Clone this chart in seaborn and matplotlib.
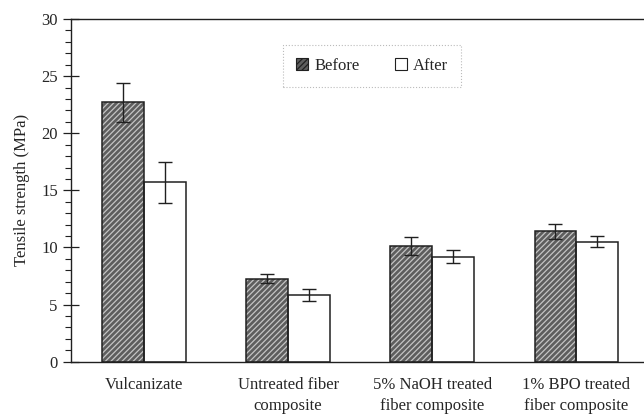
import matplotlib
matplotlib.use("Agg")
import matplotlib.pyplot as plt
import seaborn as sns
import pandas as pd
import numpy as np
from matplotlib.patches import Rectangle
from matplotlib.ticker import MultipleLocator

categories = ["Vulcanizate", "Untreated fiber\ncomposite",
              "5% NaOH treated\nfiber composite", "1% BPO treated\nfiber composite"]
before = [22.7, 7.25, 10.1, 11.4]
before_err = [1.7, 0.4, 0.78, 0.65]
after = [15.7, 5.85, 9.2, 10.5]
after_err = [1.8, 0.5, 0.55, 0.5]
series = ["Before", "After"]

df = pd.DataFrame({
    "cat": categories * 2,
    "val": before + after,
    "err": before_err + after_err,
    "series": [series[0]] * 4 + [series[1]] * 4,
})

sns.set_style("white")
plt.rcParams["font.family"] = ["Liberation Serif", "DejaVu Serif"]
plt.rcParams["hatch.linewidth"] = 0.9

fig = plt.figure(figsize=(6.44, 4.17), dpi=100)
ax = fig.add_axes([71 / 644, (417 - 361.7) / 417, 1 - 71 / 644, (361.7 - 19) / 417])

sns.barplot(data=df, x="cat", y="val", hue="series", order=categories,
            hue_order=series, palette=["#666666", "white"], width=0.58,
            errorbar=None, ax=ax, legend=False, saturation=1)

bars = [p for p in ax.patches]
for i, p in enumerate(bars):
    s = df["series"].iloc[i]
    if s == "Before":
        p.set_facecolor("#5e5e5e")
        p.set_hatch("//////")
        p.set_edgecolor("#c4c4c4")
        p.set_linewidth(0)
    else:
        p.set_facecolor("white")
        p.set_edgecolor("#c8c8c8")
        p.set_linewidth(0)
    ax.add_patch(Rectangle((p.get_x(), p.get_y()), p.get_width(), p.get_height(),
                           fill=False, edgecolor="#202020", linewidth=1.1, zorder=3))
    xc = p.get_x() + p.get_width() / 2
    ax.errorbar(xc, df["val"].iloc[i], yerr=df["err"].iloc[i], fmt="none",
                ecolor="#202020", elinewidth=1.0, capsize=5, capthick=1.0, zorder=4)

ax.set_xlim(-0.507, 3.47)
ax.set_ylim(0, 30)
ax.yaxis.set_major_locator(MultipleLocator(5))
ax.yaxis.set_minor_locator(MultipleLocator(1))
ax.tick_params(axis="y", which="major", direction="inout", length=11, width=0.9,
               labelsize=12, pad=4, left=True, color="#202020")
ax.tick_params(axis="y", which="minor", direction="out", length=4, width=0.8,
               left=True, color="#202020")
ax.tick_params(axis="x", length=0, labelsize=12, pad=11)
for lab in ax.get_xticklabels():
    lab.set_linespacing(1.45)
ax.set_xlabel("")
ax.set_ylabel("Tensile strength (MPa)", fontsize=12, labelpad=8)

for sp in ["left", "bottom", "top"]:
    ax.spines[sp].set_visible(True)
    ax.spines[sp].set_color("#202020")
    ax.spines[sp].set_linewidth(1.0)
ax.spines["right"].set_visible(False)

handles = [Rectangle((0, 0), 1, 1, facecolor="#5e5e5e", hatch="//////", edgecolor="#202020", linewidth=0.8),
           Rectangle((0, 0), 1, 1, facecolor="white", edgecolor="#202020", linewidth=0.8)]
leg = ax.legend(handles, series, ncol=2, loc="center", bbox_to_anchor=((372 - 71) / 573, (361.7 - 66) / 342.7),
                fontsize=12, frameon=True, handlelength=0.75, handleheight=0.75,
                columnspacing=2.1, handletextpad=0.35, borderpad=0.8, fancybox=False)
leg.get_frame().set_edgecolor("#aaaaaa")
leg.get_frame().set_linestyle(":")
leg.get_frame().set_linewidth(0.8)

fig.savefig("out.png", dpi=100)
